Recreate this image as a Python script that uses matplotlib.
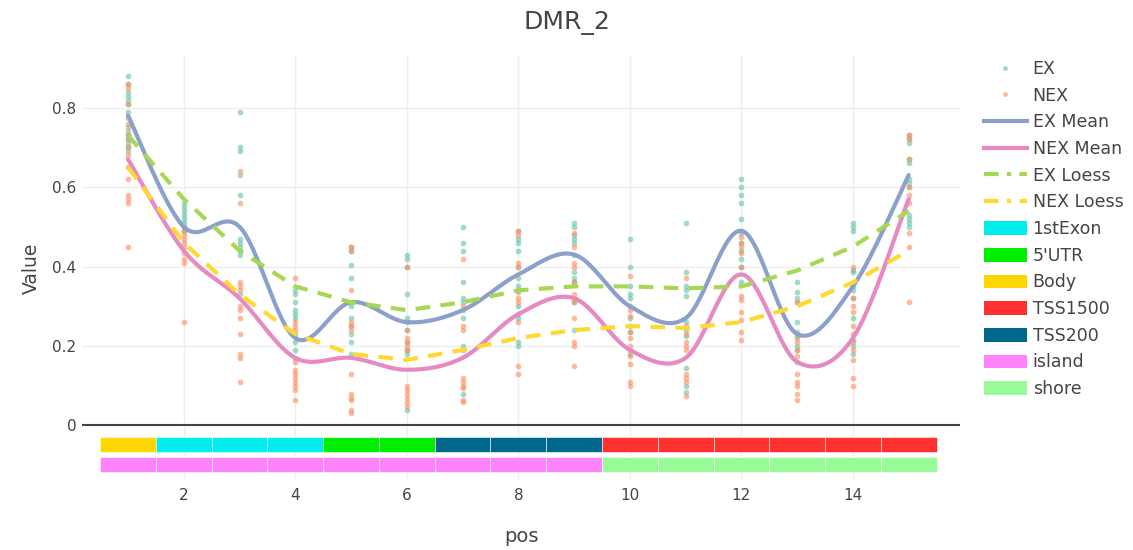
import numpy as np
import matplotlib
matplotlib.use("Agg")
import matplotlib.pyplot as plt
from matplotlib.patches import Rectangle, Patch
from matplotlib.lines import Line2D

plt.rcParams['font.family'] = ['DejaVu Sans']

positions = list(range(1, 16))

ex_points = {
    1: [0.88, 0.86, 0.84, 0.83, 0.82, 0.81, 0.79, 0.76, 0.74, 0.73, 0.72, 0.71, 0.70, 0.69],
    2: [0.56, 0.55, 0.54, 0.53, 0.52, 0.51, 0.50, 0.49],
    3: [0.79, 0.70, 0.69, 0.63, 0.58, 0.47, 0.46, 0.45, 0.44, 0.43, 0.33],
    4: [0.34, 0.33, 0.31, 0.29, 0.28, 0.27, 0.23, 0.21, 0.19, 0.17],
    5: [0.45, 0.44, 0.405, 0.37, 0.30, 0.27, 0.25, 0.23, 0.21, 0.18],
    6: [0.43, 0.42, 0.40, 0.33, 0.27, 0.26, 0.24, 0.21, 0.19, 0.18, 0.04],
    7: [0.50, 0.46, 0.44, 0.36, 0.32, 0.31, 0.29, 0.27, 0.20, 0.19, 0.08],
    8: [0.49, 0.47, 0.46, 0.44, 0.40, 0.37, 0.35, 0.34, 0.30, 0.28, 0.27, 0.21, 0.20],
    9: [0.51, 0.50, 0.48, 0.47, 0.46, 0.43, 0.385, 0.37, 0.36, 0.31, 0.24],
    10: [0.47, 0.40, 0.35, 0.33, 0.32, 0.30, 0.27, 0.25, 0.235, 0.18],
    11: [0.51, 0.385, 0.35, 0.34, 0.325, 0.26, 0.24, 0.225, 0.145, 0.10, 0.085],
    12: [0.62, 0.60, 0.58, 0.56, 0.52, 0.485, 0.46, 0.44, 0.42, 0.40, 0.36],
    13: [0.36, 0.335, 0.32, 0.31, 0.26, 0.235, 0.22, 0.20, 0.19, 0.16],
    14: [0.51, 0.50, 0.49, 0.39, 0.385, 0.35, 0.34, 0.32, 0.27, 0.215, 0.20, 0.18],
    15: [0.73, 0.72, 0.71, 0.67, 0.66, 0.62, 0.61, 0.60, 0.53, 0.52, 0.51, 0.50],
}

nex_points = {
    1: [0.86, 0.85, 0.81, 0.775, 0.75, 0.73, 0.72, 0.70, 0.68, 0.65, 0.62, 0.58, 0.57, 0.56, 0.45],
    2: [0.50, 0.49, 0.48, 0.47, 0.46, 0.45, 0.435, 0.42, 0.41, 0.26],
    3: [0.64, 0.56, 0.36, 0.35, 0.34, 0.30, 0.29, 0.27, 0.23, 0.18, 0.17, 0.11],
    4: [0.37, 0.26, 0.25, 0.24, 0.16, 0.14, 0.13, 0.12, 0.11, 0.10, 0.09, 0.065],
    5: [0.45, 0.44, 0.34, 0.26, 0.25, 0.24, 0.13, 0.08, 0.07, 0.065, 0.04, 0.03],
    6: [0.40, 0.24, 0.22, 0.21, 0.20, 0.19, 0.10, 0.09, 0.08, 0.07, 0.06, 0.05],
    7: [0.42, 0.30, 0.25, 0.24, 0.12, 0.11, 0.10, 0.095, 0.065, 0.06],
    8: [0.49, 0.48, 0.41, 0.40, 0.335, 0.32, 0.31, 0.26, 0.15, 0.13],
    9: [0.485, 0.45, 0.41, 0.40, 0.36, 0.33, 0.32, 0.31, 0.27, 0.21, 0.20, 0.15],
    10: [0.375, 0.29, 0.275, 0.235, 0.22, 0.20, 0.19, 0.175, 0.155, 0.11, 0.10],
    11: [0.37, 0.25, 0.23, 0.21, 0.20, 0.19, 0.13, 0.12, 0.11, 0.075],
    12: [0.475, 0.46, 0.45, 0.435, 0.40, 0.325, 0.315, 0.285, 0.265, 0.235, 0.215],
    13: [0.31, 0.225, 0.21, 0.19, 0.175, 0.13, 0.11, 0.10, 0.08, 0.065],
    14: [0.40, 0.32, 0.30, 0.285, 0.25, 0.23, 0.21, 0.19, 0.165, 0.12, 0.10],
    15: [0.73, 0.72, 0.67, 0.60, 0.58, 0.56, 0.485, 0.45, 0.31],
}

ex_mean = [0.78, 0.50, 0.50, 0.22, 0.31, 0.26, 0.29, 0.38, 0.43, 0.30, 0.27, 0.49, 0.23, 0.35, 0.63]
nex_mean = [0.67, 0.44, 0.32, 0.17, 0.17, 0.14, 0.17, 0.28, 0.32, 0.19, 0.17, 0.38, 0.16, 0.22, 0.57]
ex_loess = [0.73, 0.57, 0.44, 0.35, 0.31, 0.29, 0.31, 0.34, 0.35, 0.35, 0.345, 0.35, 0.39, 0.45, 0.54]
nex_loess = [0.65, 0.46, 0.33, 0.23, 0.18, 0.165, 0.19, 0.22, 0.24, 0.25, 0.245, 0.26, 0.30, 0.36, 0.44]

region_track = ['Body', '1stExon', '1stExon', '1stExon', "5'UTR", "5'UTR", 'TSS200', 'TSS200', 'TSS200',
                'TSS1500', 'TSS1500', 'TSS1500', 'TSS1500', 'TSS1500', 'TSS1500']
island_track = ['island'] * 9 + ['shore'] * 6

cat_names = ['1stExon', "5'UTR", 'Body', 'TSS1500', 'TSS200', 'island', 'shore']
cat_colors = {'1stExon': '#00EEEE', "5'UTR": '#00EE00', 'Body': '#FFD700', 'TSS1500': '#FF3030',
              'TSS200': '#00688B', 'island': '#FF83FA', 'shore': '#98FB98'}

EX_C = '#66c2a5'
NEX_C = '#fc8d62'


def spline(xs, ys, n=30):
    pts = np.column_stack([xs, ys]).astype(float)
    out = []
    m = len(pts)
    for i in range(m - 1):
        p0 = pts[i - 1] if i > 0 else pts[i]
        p1 = pts[i]
        p2 = pts[i + 1]
        p3 = pts[i + 2] if i + 2 < m else pts[i + 1]
        c1 = p1 + (p2 - p0) / 6.0
        c2 = p2 - (p3 - p1) / 6.0
        t = np.linspace(0, 1, n)[:, None]
        seg = ((1 - t) ** 3) * p1 + 3 * ((1 - t) ** 2) * t * c1 + 3 * (1 - t) * t ** 2 * c2 + t ** 3 * p2
        out.append(seg if i == 0 else seg[1:])
    out = np.vstack(out)
    return out[:, 0], out[:, 1]


W, H = 1133, 550
fig = plt.figure(figsize=(W / 100, H / 100), dpi=100)
ax_left, ax_right = 82, 960
ax_top, ax_bot = 56, 481
ax = fig.add_axes([ax_left / W, 1 - ax_bot / H, (ax_right - ax_left) / W, (ax_bot - ax_top) / H])
ax.set_xlim(0.175, 15.92)
ax.set_ylim(-0.14, 0.93)
for s in ax.spines.values():
    s.set_visible(False)

ax.set_yticks([0, 0.2, 0.4, 0.6, 0.8])
ax.set_yticklabels(['0', '0.2', '0.4', '0.6', '0.8'])
ax.set_xticks([2, 4, 6, 8, 10, 12, 14])
ax.tick_params(length=0, colors='#444444', labelsize=11)
ax.tick_params(axis='x', pad=5)
ax.tick_params(axis='y', pad=4)
for yv in [0.2, 0.4, 0.6, 0.8]:
    ax.axhline(yv, color='#eeeeee', lw=1, zorder=0)
for xv in [2, 4, 6, 8, 10, 12, 14]:
    ax.axvline(xv, color='#eeeeee', lw=1, zorder=0)
ax.axhline(0, color='#444444', lw=1.5, zorder=1)

# scatter points
for p in positions:
    ax.scatter([p] * len(ex_points[p]), ex_points[p], s=17, color=EX_C, alpha=0.6, lw=0, zorder=2)
    ax.scatter([p] * len(nex_points[p]), nex_points[p], s=17, color=NEX_C, alpha=0.6, lw=0, zorder=2)

# mean splines
xs, ys = spline(positions, ex_mean)
ax.plot(xs, ys, color='#8da0cb', lw=3, zorder=3, solid_capstyle='round')
xs, ys = spline(positions, nex_mean)
ax.plot(xs, ys, color='#e78ac3', lw=3, zorder=3, solid_capstyle='round')

# loess
ax.plot(positions, ex_loess, color='#a6d854', lw=3, ls=(0, (3.5, 2.5)), zorder=3)
ax.plot(positions, nex_loess, color='#ffd92f', lw=3, ls=(0, (3.5, 2.5)), zorder=3)

# annotation tracks
for i, p in enumerate(positions):
    ax.add_patch(Rectangle((p - 0.5, -0.068), 1, 0.038, facecolor=cat_colors[region_track[i]],
                           edgecolor='white', lw=0.4, zorder=2))
    ax.add_patch(Rectangle((p - 0.5, -0.118), 1, 0.038, facecolor=cat_colors[island_track[i]],
                           edgecolor='white', lw=0.4, zorder=2))

ax.set_xlabel('pos', fontsize=14, color='#444444', labelpad=17)
ax.set_ylabel('Value', fontsize=13.5, color='#444444', labelpad=8)
fig.text(0.5, 1 - 23 / H, 'DMR_2', ha='center', va='center', fontsize=18, color='#444444')

handles = [
    Line2D([], [], marker='o', ls='none', color=EX_C, alpha=0.6, markersize=3.5, markeredgewidth=0),
    Line2D([], [], marker='o', ls='none', color=NEX_C, alpha=0.6, markersize=3.5, markeredgewidth=0),
    Line2D([], [], color='#8da0cb', lw=3),
    Line2D([], [], color='#e78ac3', lw=3),
    Line2D([], [], color='#a6d854', lw=3, ls=(0, (3.5, 2, 1, 2))),
    Line2D([], [], color='#ffd92f', lw=3, ls=(0, (3.5, 2, 1, 2))),
]
labels = ['EX', 'NEX', 'EX Mean', 'NEX Mean', 'EX Loess', 'NEX Loess']
for c in cat_names:
    handles.append(Patch(facecolor=cat_colors[c], edgecolor='none'))
    labels.append(c)

leg = fig.legend(handles, labels, loc='upper left', bbox_to_anchor=(984 / W, 1 - 60 / H),
                 frameon=False, fontsize=12.5, labelspacing=0.5, handlelength=2.45,
                 handleheight=0.85, handletextpad=0.35, borderaxespad=0, borderpad=0)
for t in leg.get_texts():
    t.set_color('#444444')

fig.savefig('out.png', dpi=100)
